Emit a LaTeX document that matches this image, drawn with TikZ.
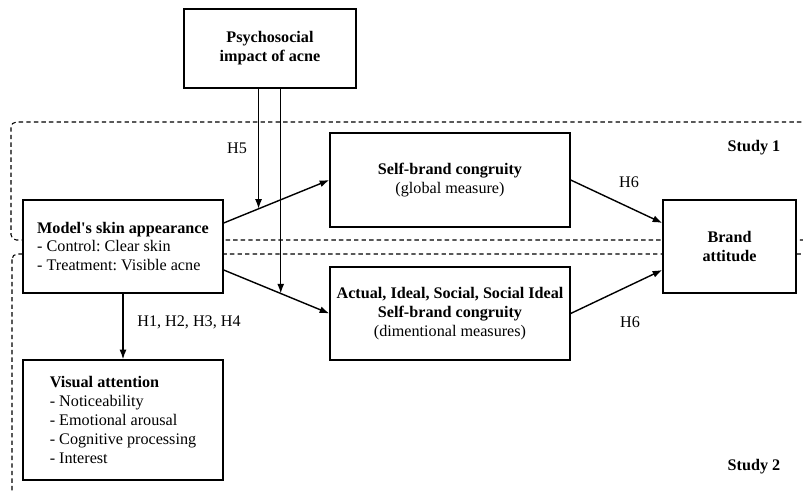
\documentclass[tikz,border=0pt]{standalone}
\usepackage{fontspec}
\setmainfont{Liberation Serif}
\usepackage{tikz}
\usetikzlibrary{positioning}
\usetikzlibrary{arrows.meta}
\frenchspacing

\begin{document}
\begin{tikzpicture}[
  x=0.02cm, y=-0.02cm,
  font=\fontsize{9.2}{10.8}\selectfont,
  box/.style={draw, fill=white, inner sep=+0pt},
  studyframe/.style={draw, dash pattern=on 2.5pt off 1.8pt, line width=0.6pt, rounded corners=3pt},
  >={Latex[length=5.5pt,width=4pt]},
  thick
]
\useasboundingbox (0,0) rectangle (803,492);

% study frames
\draw[studyframe] (11,122) rectangle (812,240);
\draw[studyframe] (12,254) rectangle (812,497);

\node[box, minimum width=3.44cm, minimum height=1.58cm, align=center] (psych) at (270,48.5) {\textbf{Psychosocial}\\\textbf{impact of acne}};

\node[box, minimum width=4.0cm, minimum height=1.86cm, align=left] (skin) at (123,246.5) {\textbf{Model\textquotesingle s skin appearance}\\- Control: Clear skin\\- Treatment: Visible acne};
\node[box, minimum width=4.0cm, minimum height=2.4cm, align=left] (attn) at (123,420) {\textbf{Visual attention}\\- Noticeability\\- Emotional arousal\\- Cognitive processing\\- Interest};

\node[box, minimum width=4.8cm, minimum height=1.88cm, align=center] (global) at (450,180) {\textbf{Self-brand congruity}\\(global measure)};
\node[box, minimum width=4.8cm, minimum height=1.86cm, align=center] (dimen) at (450,313.5) {\textbf{Actual, Ideal, Social, Social Ideal}\\\textbf{Self-brand congruity}\\(dimentional measures)};

\node[box, minimum width=2.66cm, minimum height=1.86cm, align=center] (brand) at (729.5,246.5) {\textbf{Brand}\\\textbf{attitude}};

\draw[->] ([yshift=0.47cm]skin.east) -- coordinate[pos=0.33] (hfive) (global.west);
\draw[->] ([yshift=-0.47cm]skin.east) -- coordinate[pos=0.54] (hmod) (dimen.west);
\draw[->] (skin.south) -- (attn.north);
\draw[->] (global.east) -- ([yshift=0.47cm]brand.west);
\draw[->] (dimen.east) -- ([yshift=-0.47cm]brand.west);

\draw[->] (psych.south -| hfive) -- (hfive);
\draw[->] (psych.south -| hmod) -- (hmod);

\node (hfivelbl) at (237,148) {H5};
\node (hsixup) at (629,182) {H6};
\node (hsixdown) at (630,322) {H6};
\node (hattn) at (189,322) {H1, H2, H3, H4};

\node (studyone) at (754,148) {\textbf{Study 1}};
\node (studytwo) at (754,467) {\textbf{Study 2}};

\end{tikzpicture}
\end{document}
